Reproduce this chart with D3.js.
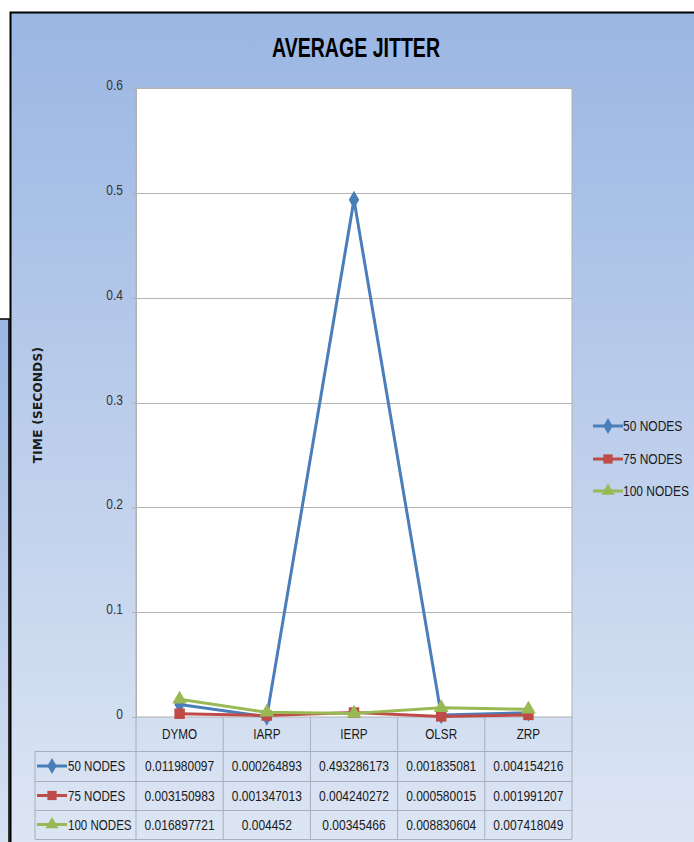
<!DOCTYPE html>
<html>
<head>
<meta charset="utf-8">
<script src="https://cdn.jsdelivr.net/npm/d3@7"></script>
<style>
  body { margin: 0; background: #fff; }
  svg { display: block; }
  text { font-family: "Liberation Sans", Arial, sans-serif; fill: #1a1a1a; }
</style>
</head>
<body>
<div id="chart"></div>
<script>
var categories = ['DYMO', 'IARP', 'IERP', 'OLSR', 'ZRP'];
var seriesNames = ['50 NODES', '75 NODES', '100 NODES'];
var nodes50 = [0.011980097, 0.000264893, 0.493286173, 0.001835081, 0.004154216];
var nodes75 = [0.003150983, 0.001347013, 0.004240272, 0.000580015, 0.001991207];
var nodes100 = [0.016897721, 0.004452, 0.00345466, 0.008830604, 0.007418049];
var valueLabels = [
  ['0.011980097', '0.000264893', '0.493286173', '0.001835081', '0.004154216'],
  ['0.003150983', '0.001347013', '0.004240272', '0.000580015', '0.001991207'],
  ['0.016897721', '0.004452', '0.00345466', '0.008830604', '0.007418049']
];
var yTicks = [0, 0.1, 0.2, 0.3, 0.4, 0.5, 0.6];

var colors = ['#4a7ebb', '#be4b48', '#98b954'];
var markers = [d3.symbolDiamond, d3.symbolSquare, d3.symbolTriangle];
var allSeries = [nodes50, nodes75, nodes100];

var W = 694, H = 842;
var plot = {left: 136, right: 572, top: 88, bottom: 717};

var svg = d3.select('#chart').append('svg').attr('width', W).attr('height', H);

// squeeze wide fonts to look like the narrow office font
function condense(sel, f) {
  sel.each(function () {
    var w = this.getComputedTextLength();
    d3.select(this).attr('textLength', w * f).attr('lengthAdjust', 'spacingAndGlyphs');
  });
}

var defs = svg.append('defs');
var grad = defs.append('linearGradient').attr('id', 'bg').attr('x1', 0).attr('y1', 0).attr('x2', 0).attr('y2', 1);
grad.append('stop').attr('offset', '0%').attr('stop-color', '#9ab6e3');
grad.append('stop').attr('offset', '100%').attr('stop-color', '#dfe7f4');

// chart window behind (left edge)
svg.append('rect').attr('x', -10).attr('y', 319).attr('width', 19).attr('height', 600)
  .attr('fill', 'url(#bg)').attr('stroke', '#000').attr('stroke-width', 1.5);

// main chart frame
svg.append('rect').attr('x', 10.5).attr('y', 12.5).attr('width', 720).attr('height', 860)
  .attr('fill', 'url(#bg)').attr('stroke', '#000').attr('stroke-width', 2);

// title
var title = svg.append('text').attr('x', 356).attr('y', 57).attr('text-anchor', 'middle')
  .style('font-size', '27px').style('font-weight', 'bold').style('fill', '#000')
  .text('AVERAGE JITTER');
title.attr('textLength', 168).attr('lengthAdjust', 'spacingAndGlyphs');

var x = d3.scaleBand().domain(categories).range([plot.left, plot.right]);
var y = d3.scaleLinear().domain([0, 0.6]).range([plot.bottom, plot.top]);
var cx = function (c) { return x(c) + x.bandwidth() / 2; };

// plot area
svg.append('rect').attr('x', plot.left).attr('y', plot.top)
  .attr('width', plot.right - plot.left).attr('height', plot.bottom - plot.top)
  .attr('fill', '#fff').attr('stroke', '#b0b0b0').attr('stroke-width', 1);

// gridlines
svg.append('g').selectAll('line').data(yTicks.slice(1)).enter().append('line')
  .attr('x1', plot.left).attr('x2', plot.right)
  .attr('y1', function (d) { return Math.round(y(d)) + 0.5; })
  .attr('y2', function (d) { return Math.round(y(d)) + 0.5; })
  .attr('stroke', '#b3b3b3').attr('stroke-width', 1.2);

// y axis
var yAxis = svg.append('g').attr('transform', 'translate(' + plot.left + ',0)')
  .call(d3.axisLeft(y).tickValues(yTicks).tickSize(4).tickPadding(9)
    .tickFormat(function (d) { return d === 0 ? '0' : d3.format('.1f')(d); }));
yAxis.select('.domain').attr('stroke', '#b0b0b0');
yAxis.selectAll('.tick line').attr('stroke', '#b0b0b0');
yAxis.selectAll('.tick text').style('font-size', '15px').style('fill', '#333')
  .style('font-family', '"Liberation Sans", sans-serif').attr('dy', '0.1em');
condense(yAxis.selectAll('.tick text'), 0.8);

svg.append('text').attr('transform', 'translate(42,405) rotate(-90)')
  .attr('text-anchor', 'middle').style('font-size', '12px').style('font-weight', 'bold')
  .style('font-family', '"DejaVu Sans", sans-serif').style('letter-spacing', '0.3px')
  .text('TIME (SECONDS)');

// data table
var rowTops = [717, 751, 781, 810, 839];
var tableLeft = 35;
var tg = svg.append('g');
var lineColor = '#a8aebb';
categories.concat([null]).forEach(function (c, i) {
  var xx = i < categories.length ? x(c) : plot.right;
  tg.append('line').attr('x1', xx).attr('x2', xx).attr('y1', rowTops[0]).attr('y2', rowTops[4])
    .attr('stroke', lineColor);
});
tg.append('line').attr('x1', tableLeft).attr('x2', tableLeft).attr('y1', rowTops[1]).attr('y2', rowTops[4]).attr('stroke', lineColor);
rowTops.slice(1).forEach(function (ry) {
  tg.append('line').attr('x1', tableLeft).attr('x2', plot.right).attr('y1', ry + 0.5).attr('y2', ry + 0.5)
    .attr('stroke', lineColor);
});
var catText = tg.selectAll('text.cat').data(categories).enter().append('text').attr('class', 'cat')
  .attr('x', cx).attr('y', (rowTops[0] + rowTops[1]) / 2 + 5)
  .attr('text-anchor', 'middle').style('font-size', '15px').text(function (c) { return c; });
condense(catText, 0.78);

function drawKey(g, i, x0, yc) {
  g.append('line').attr('x1', x0).attr('x2', x0 + 30).attr('y1', yc).attr('y2', yc)
    .attr('stroke', colors[i]).attr('stroke-width', 3);
  g.append('path').attr('d', d3.symbol().type(markers[i]).size(i === 1 ? 85 : 75)())
    .attr('transform', 'translate(' + (x0 + 15) + ',' + yc + ')').attr('fill', colors[i]);
}

seriesNames.forEach(function (name, i) {
  var yc = (rowTops[i + 1] + rowTops[i + 2]) / 2;
  drawKey(tg, i, 37, yc);
  var lab = tg.append('text').attr('x', 68).attr('y', yc + 5).style('font-size', '15px').text(name);
  condense(lab, 0.77);
  var vals = tg.selectAll('text.v' + i).data(valueLabels[i]).enter().append('text').attr('class', 'v' + i)
    .attr('x', function (d, j) { return cx(categories[j]); }).attr('y', yc + 5).attr('text-anchor', 'middle')
    .style('font-size', '15px').text(function (d) { return d; });
  condense(vals, 0.8);
});

// series lines and markers
var line = d3.line().x(function (d, i) { return cx(categories[i]); }).y(function (d) { return y(d); });
allSeries.forEach(function (vals, i) {
  var g = svg.append('g');
  g.append('path').datum(vals).attr('d', line).attr('fill', 'none')
    .attr('stroke', colors[i]).attr('stroke-width', 3).attr('stroke-linejoin', 'round');
  g.selectAll('path.m').data(vals).enter().append('path').attr('class', 'm')
    .attr('d', d3.symbol().type(markers[i]).size(i === 1 ? 110 : 95)())
    .attr('transform', function (d, j) { return 'translate(' + cx(categories[j]) + ',' + y(d) + ')'; })
    .attr('fill', colors[i]);
});

// legend (scaled horizontally so the text stays inside the window)
var lg = svg.append('g');
var legendY = [426, 459, 491];
seriesNames.forEach(function (name, i) {
  drawKey(lg, i, 593, legendY[i]);
  lg.append('text').attr('transform', 'translate(623,' + (legendY[i] + 5) + ') scale(0.8,1)')
    .style('font-size', '15px').text(name);
});
</script>
</body>
</html>
